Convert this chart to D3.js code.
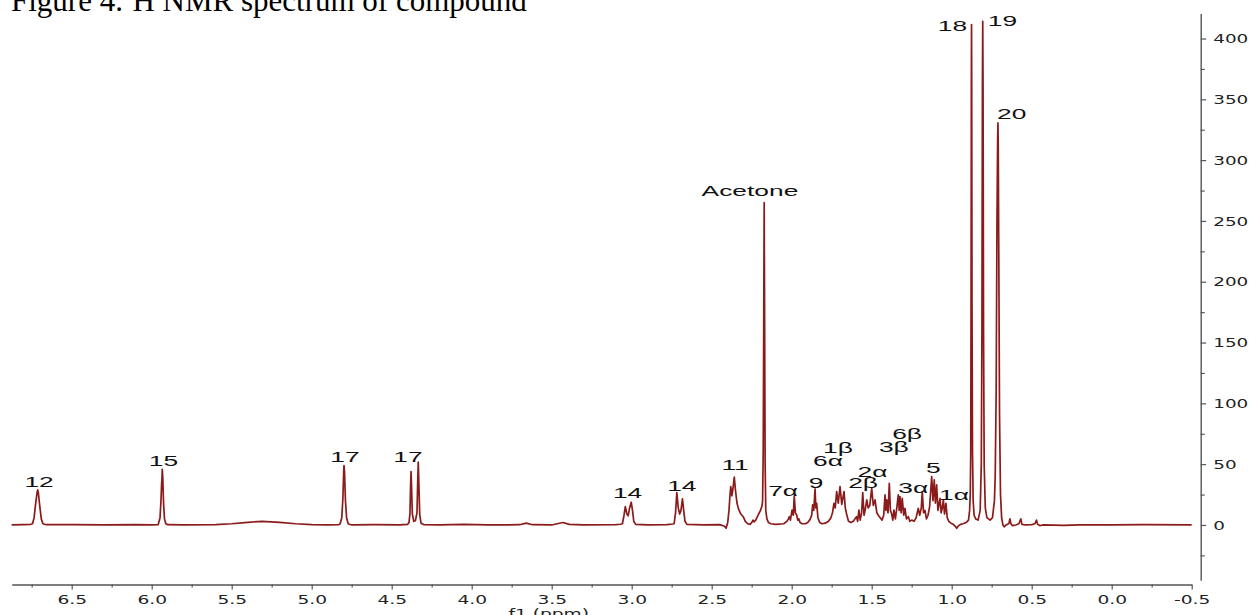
<!DOCTYPE html>
<html>
<head>
<meta charset="utf-8">
<script src="https://cdn.jsdelivr.net/npm/d3@7"></script>
<style>
  html, body { margin: 0; padding: 0; background: #fff; overflow: hidden; }
</style>
</head>
<body>
<div id="chart"></div>
<script>
// --- data: [shift in ppm, intensity] ---
const region12to15 = [
  [6.875, 0], [6.80, 0.3], [6.76, 0.4], [6.745, 1], [6.735, 6], [6.725, 18], [6.716, 27],
  [6.7125, 28.8], [6.709, 27], [6.70, 16], [6.69, 5], [6.68, 1], [6.66, 0.2],
  [6.5, 0.3], [6.3, 0], [6.1, 0.2], [6.0, 0], [5.96, 0.3],
  [5.958, 1], [5.948, 6], [5.942, 20], [5.938, 34], [5.936, 38], [5.934, 45.8],
  [5.931, 40], [5.926, 18], [5.92, 5], [5.912, 1], [5.9, 0.2]
];
const region17 = [
  [5.8, 0], [5.6, 0.3], [5.5, 1], [5.4, 2.2], [5.31, 3], [5.2, 2.2], [5.1, 1], [5.0, 0.3],
  [4.9, 0], [4.83, 0.3],
  [4.822, 1], [4.812, 6], [4.805, 22], [4.800, 44], [4.798, 48.8], [4.795, 44], [4.789, 20],
  [4.782, 6], [4.772, 1], [4.75, 0], [4.6, 0.2], [4.45, 0], [4.40, 0.5],
  [4.392, 2], [4.386, 9], [4.382, 32], [4.379, 43.9], [4.376, 32], [4.371, 9], [4.362, 3],
  [4.352, 3.5], [4.342, 10], [4.337, 38], [4.334, 51.6], [4.331, 38], [4.325, 9],
  [4.317, 1.5], [4.30, 0.3]
];
const region14 = [
  [4.2, 0], [4.05, 0.5], [3.9, 0], [3.7, 0.2], [3.66, 1.5], [3.62, 0.2], [3.5, 0],
  [3.43, 2], [3.39, 0.5], [3.3, 0], [3.1, 0.3], [3.07, 0.6],
  [3.058, 1], [3.048, 8], [3.04, 15.1], [3.03, 9], [3.022, 7.5], [3.013, 14], [3.003, 18.7],
  [2.995, 12], [2.987, 3], [2.975, 0.5], [2.9, 0], [2.78, 0.3], [2.745, 0.8],
  [2.735, 1], [2.726, 10], [2.718, 26.6], [2.709, 14], [2.700, 9], [2.692, 12], [2.683, 21.4],
  [2.675, 12], [2.667, 3], [2.655, 0.5], [2.55, 0], [2.45, 0.3], [2.42, -1]
];
const region11 = [
  [2.41, -2.7], [2.40, 2], [2.392, 12], [2.386, 24], [2.381, 31.5], [2.374, 24], [2.367, 30],
  [2.359, 39.3], [2.351, 28], [2.342, 18], [2.332, 13], [2.318, 9], [2.303, 6.8], [2.29, 3],
  [2.275, 1], [2.26, 0.5], [2.25, 2], [2.242, 4], [2.235, 2.5], [2.225, 4], [2.21, 8],
  [2.195, 12], [2.185, 16],
  // acetone
  [2.182, 20], [2.178, 60], [2.175, 160], [2.172, 265], [2.169, 160], [2.166, 50],
  [2.162, 12], [2.155, 5], [2.145, 2], [2.13, 1], [2.10, 0.5], [2.05, 1], [2.03, 3]
];
const region7to6 = [
  [2.02, 5], [2.015, 6.8], [2.008, 4], [1.998, 12.3], [1.99, 8], [1.984, 23.9], [1.977, 10],
  [1.969, 8.2], [1.962, 4], [1.955, 5], [1.948, 2], [1.935, 1], [1.915, 1], [1.90, 2],
  [1.888, 4], [1.881, 6], [1.875, 8], [1.869, 16.5], [1.862, 12], [1.854, 29.6], [1.849, 14],
  [1.844, 17.8], [1.836, 6], [1.825, 2], [1.81, 1], [1.79, 1.5], [1.77, 3], [1.755, 6],
  [1.745, 10], [1.736, 17.8], [1.728, 14], [1.719, 27.4], [1.709, 18], [1.698, 31.5],
  [1.687, 17], [1.673, 27.4], [1.665, 14], [1.657, 9], [1.645, 3], [1.63, 2], [1.615, 3]
];
const region2to1 = [
  [1.605, 5], [1.595, 6.8], [1.588, 3], [1.58, 12.3], [1.572, 4], [1.563, 10], [1.556, 26.6],
  [1.548, 8], [1.541, 12], [1.531, 20.6], [1.522, 14], [1.512, 16], [1.50, 30.2], [1.49, 16],
  [1.479, 20.6], [1.468, 10], [1.459, 8], [1.447, 6], [1.435, 4], [1.425, 8],
  [1.417, 24.7], [1.411, 12], [1.406, 20.6], [1.398, 10], [1.39, 34.3], [1.383, 12],
  [1.375, 9], [1.368, 4], [1.361, 12.3], [1.352, 5], [1.343, 14],
  [1.334, 24.7], [1.328, 12], [1.323, 23.3], [1.316, 10], [1.309, 21.9], [1.30, 8],
  [1.292, 13.7], [1.283, 5], [1.271, 6.8], [1.262, 3], [1.25, 4], [1.235, 3], [1.222, 6],
  [1.209, 13.7], [1.20, 8], [1.19, 14], [1.184, 27.4], [1.176, 10], [1.167, 12], [1.158, 5],
  [1.148, 8], [1.138, 15], [1.125, 39.8], [1.117, 20], [1.109, 37], [1.102, 18], [1.094, 32.9],
  [1.086, 12], [1.073, 21.9], [1.066, 10], [1.059, 14], [1.052, 20.6], [1.045, 9],
  [1.036, 17.8], [1.028, 6], [1.018, 3], [1.005, 1.5], [0.99, 0.5], [0.975, -1.5],
  [0.969, -2.7], [0.96, -1], [0.945, 0.5], [0.93, 1], [0.91, 2], [0.895, 4]
];
const regionMethyl = [
  [0.888, 12], [0.884, 25], [0.881, 60], [0.879, 180], [0.877, 370], [0.876, 411.5],
  [0.875, 370], [0.873, 180], [0.870, 60], [0.866, 20], [0.86, 8], [0.85, 5], [0.835, 4],
  [0.822, 12], [0.815, 50], [0.811, 160], [0.808, 360], [0.806, 414.2], [0.804, 360],
  [0.801, 160], [0.797, 50], [0.79, 14], [0.78, 6], [0.76, 4], [0.745, 6], [0.733, 20],
  [0.728, 40], [0.722, 110], [0.717, 250], [0.713, 315], [0.711, 330.6], [0.709, 310],
  [0.706, 230], [0.701, 90], [0.695, 25], [0.688, 6], [0.68, 0], [0.672, -1.5], [0.66, 0],
  [0.645, 1], [0.641, 2], [0.636, 5], [0.63, 1], [0.62, -0.5], [0.60, 0], [0.58, 1],
  [0.568, 5], [0.561, 0.5], [0.54, 0], [0.50, 0.3], [0.48, 1], [0.47, 4], [0.463, 0.5],
  [0.45, -0.5], [0.43, 0], [0.3, -0.3], [0.2, 0], [0.0, 0], [-0.2, 0.2], [-0.5, 0]
];

// peak labels: text, shift, intensity at the text baseline
const peakLabels = [
  { t: "12", p: 6.704, v: 31.5 }, { t: "15", p: 5.927, v: 48.8 },
  { t: "17", p: 4.792, v: 51.9 }, { t: "17", p: 4.398, v: 51.9 },
  { t: "14", p: 3.026, v: 22.2 }, { t: "14", p: 2.687, v: 27.6 },
  { t: "11", p: 2.354, v: 44.9 }, { t: "Acetone", p: 2.261, v: 270.8 },
  { t: "7α", p: 2.054, v: 23.9 }, { t: "9", p: 1.848, v: 30.2 },
  { t: "6α", p: 1.773, v: 48.6 }, { t: "1β", p: 1.711, v: 59 },
  { t: "2α", p: 1.495, v: 39.8 }, { t: "2β", p: 1.554, v: 30.2 },
  { t: "3β", p: 1.362, v: 60.3 }, { t: "6β", p: 1.279, v: 70.5 },
  { t: "3α", p: 1.24, v: 26.6 }, { t: "5", p: 1.115, v: 42.6 },
  { t: "1α", p: 0.986, v: 20.6 }, { t: "18", p: 0.995, v: 406 },
  { t: "19", p: 0.683, v: 410.7 }, { t: "20", p: 0.625, v: 333.9 }
];

const xTicks = [6.5, 6.0, 5.5, 5.0, 4.5, 4.0, 3.5, 3.0, 2.5, 2.0, 1.5, 1.0, 0.5, 0.0, -0.5];
const xMinorTicks = [6.75, 6.25, 5.75, 5.25, 4.75, 4.25, 3.75, 3.25, 2.75, 2.25, 1.75, 1.25, 0.75, 0.25, -0.25];
const yTicks = [0, 50, 100, 150, 200, 250, 300, 350, 400];
const yMinorTicks = [-25, 25, 75, 125, 175, 225, 275, 325, 375];

const W = 1252, H = 615;
const lineColor = "#8b1a1a";
const axisColor = "#555";

const svg = d3.select("#chart").append("svg")
  .attr("width", W).attr("height", H)
  .attr("viewBox", `0 0 ${W} ${H}`);

// ppm axis runs right to left
const x = d3.scaleLinear().domain([6.875, -0.5]).range([11.7, 1191.7]);
const y = d3.scaleLinear().domain([-45.5, 420.5]).range([580.3, 13.6]);

// title at the top, cut by the page edge
const title = svg.append("text")
  .attr("x", 11).attr("y", 11)
  .style("font-family", "'Liberation Serif', 'Times New Roman', serif")
  .style("font-size", "31px")
  .attr("fill", "#000");
title.append("tspan").text("Figure 4.");
title.append("tspan").attr("dy", -13).style("font-size", "19px").text("1");
title.append("tspan").attr("dy", 13).text("H NMR spectrum of compound");

// --- x axis (bottom) ---
const xAxisY = 584.5;
svg.append("g")
  .attr("transform", `translate(0,${xAxisY})`)
  .call(d3.axisBottom(x).tickValues(xMinorTicks).tickSize(3).tickSizeOuter(0).tickFormat(""))
  .call(g => g.select(".domain").remove())
  .call(g => g.selectAll("line").attr("stroke", axisColor).attr("stroke-width", 1.2));

const xAxis = svg.append("g")
  .attr("transform", `translate(0,${xAxisY})`)
  .call(d3.axisBottom(x).tickValues(xTicks).tickSize(5).tickSizeOuter(0)
    .tickFormat(d => d.toFixed(1)));
xAxis.select(".domain").attr("stroke", axisColor).attr("stroke-width", 1.4);
xAxis.selectAll("line").attr("stroke", axisColor).attr("stroke-width", 1.2);
xAxis.selectAll("text")
  .attr("y", 19.8).attr("dy", null)
  .attr("transform", "scale(1.62,1)")
  .attr("fill", "#222")
  .style("font-family", "'DejaVu Sans', Verdana, sans-serif")
  .style("font-size", "11.5px");

// axis title, mostly below the page edge
svg.append("text")
  .attr("transform", `translate(${x(3.5) - 3},618) scale(1.62,1)`)
  .attr("text-anchor", "middle")
  .attr("fill", "#222")
  .style("font-family", "'DejaVu Sans', Verdana, sans-serif")
  .style("font-size", "11.5px")
  .text("f1 (ppm)");

// --- y axis (right) ---
const yAxisX = 1200.7;
svg.append("g")
  .attr("transform", `translate(${yAxisX},0)`)
  .call(d3.axisRight(y).tickValues(yMinorTicks).tickSize(4).tickSizeOuter(0).tickFormat(""))
  .call(g => g.select(".domain").remove())
  .call(g => g.selectAll("line").attr("stroke", axisColor).attr("stroke-width", 1.2));

const yAxis = svg.append("g")
  .attr("transform", `translate(${yAxisX},0)`)
  .call(d3.axisRight(y).tickValues(yTicks).tickSize(5.5).tickSizeOuter(0));
yAxis.select(".domain").attr("stroke", axisColor).attr("stroke-width", 1.4);
yAxis.selectAll("line").attr("stroke", axisColor).attr("stroke-width", 1.2);
yAxis.selectAll("text")
  .attr("x", 0).attr("dy", "0.36em")
  .attr("text-anchor", "start")
  .attr("transform", "translate(12.5,0) scale(1.6,1)")
  .attr("fill", "#222")
  .style("font-family", "'DejaVu Sans', Verdana, sans-serif")
  .style("font-size", "11.5px");

// --- spectrum trace ---
const spectrum = [].concat(region12to15, region17, region14, region11, region7to6, region2to1, regionMethyl)
  .sort((a, b) => b[0] - a[0]);

const line = d3.line()
  .x(d => x(d[0]))
  .y(d => y(d[1]));

svg.append("path")
  .datum(spectrum)
  .attr("d", line)
  .attr("fill", "none")
  .attr("stroke", lineColor)
  .attr("stroke-width", 1.7)
  .attr("stroke-linejoin", "round");

// --- peak labels (wide, like the stretched original) ---
svg.append("g")
  .selectAll("text")
  .data(peakLabels)
  .join("text")
    .attr("transform", d => `translate(${x(d.p)},${y(d.v)}) scale(1.7,1)`)
    .attr("text-anchor", "middle")
    .attr("fill", "#111")
    .style("font-family", "'Liberation Sans', Arial, sans-serif")
    .style("font-size", "15.5px")
    .text(d => d.t);
</script>
</body>
</html>
